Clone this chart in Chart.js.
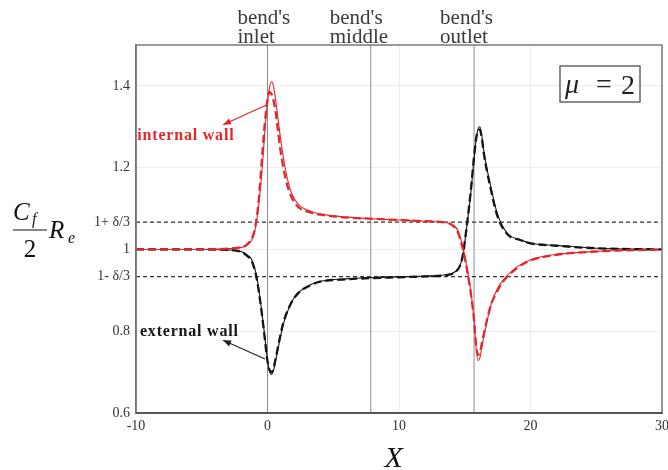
<!DOCTYPE html>
<html>
<head>
<meta charset="utf-8">
<script src="https://cdn.jsdelivr.net/npm/chart.js@4"></script>
<style>
body{margin:0;background:#fff}
#wrap{width:668px;height:470px}
</style>
</head>
<body>
<div id="wrap"><canvas id="chart" width="668" height="470"></canvas></div>
<script>
// delta/3 band around 1
const d3 = 0.0667;

const xTicks = [-10, 0, 10, 20, 30];
const yTickValues = [0.6, 0.8, 1 - d3, 1, 1 + d3, 1.2, 1.4];
const yTickLabels = ["0.6", "0.8", "1- δ/3", "1", "1+ δ/3", "1.2", "1.4"];

// bend inlet / middle / outlet
const bendMarks = [0, 2.5 * Math.PI, 5 * Math.PI];
const bendNames = [["bend's", "inlet"], ["bend's", "middle"], ["bend's", "outlet"]];

// internal wall (red)
const xInternal = [-10,-5,-3,-2,-1.5,-1,-0.7,-0.4,-0.2,0,0.15,0.3,0.45,0.6,0.8,1.0,1.4,1.8,2.3,3.3,4,5,6,8,10,12,13.5,14.1,14.5,14.9,15.2,15.45,15.7,15.85,16.0,16.15,16.35,16.6,17,17.5,18,19,20,22,25,30];
const internalSolid = [1,1,1.002,1.005,1.012,1.04,1.10,1.2,1.29,1.36,1.395,1.41,1.40,1.37,1.32,1.27,1.19,1.14,1.112,1.093,1.087,1.082,1.079,1.075,1.072,1.069,1.066,1.06,1.045,1.0,0.95,0.9,0.83,0.765,0.728,0.735,0.77,0.81,0.865,0.905,0.928,0.958,0.975,0.988,0.995,1.0];
const internalDashed = [1,1,1.002,1.006,1.014,1.045,1.11,1.23,1.31,1.365,1.385,1.38,1.365,1.34,1.29,1.24,1.17,1.13,1.105,1.09,1.085,1.081,1.078,1.075,1.072,1.069,1.066,1.058,1.04,0.995,0.945,0.895,0.83,0.77,0.742,0.748,0.778,0.815,0.865,0.9,0.925,0.955,0.973,0.987,0.995,1.0];

// external wall (black)
const xExternal = [-10,-5,-3,-2,-1.5,-1.2,-0.8,-0.4,-0.2,0,0.15,0.3,0.45,0.6,0.8,1.2,1.75,2.3,3.3,4,6,8,10,12,13.5,14.3,14.7,14.9,15.2,15.45,15.7,15.85,16.0,16.15,16.3,16.45,16.95,17.5,18.25,19.2,20,22,25,30];
const externalSolid = [1,1,0.999,0.995,0.985,0.975,0.93,0.84,0.785,0.728,0.703,0.694,0.703,0.725,0.757,0.817,0.866,0.893,0.914,0.922,0.928,0.931,0.933,0.935,0.938,0.946,0.966,0.995,1.068,1.134,1.22,1.265,1.293,1.30,1.278,1.24,1.158,1.085,1.039,1.024,1.015,1.01,1.003,1.0];
const externalDashed = [1,1,0.999,0.994,0.983,0.972,0.925,0.835,0.78,0.727,0.705,0.70,0.708,0.73,0.762,0.82,0.866,0.892,0.913,0.921,0.927,0.93,0.932,0.934,0.937,0.945,0.965,0.995,1.07,1.14,1.225,1.267,1.29,1.293,1.272,1.235,1.152,1.08,1.037,1.023,1.015,1.009,1.003,1.0];

const RED = "#e8252b";
const BLACK = "#151515";
const SERIF = '"Liberation Serif", "Times New Roman", serif';

function pts(xs, ys){ return xs.map((x,i)=>({x:x, y:ys[i]})) }

function curve(data, color, dashed){
  return {
    data: data, borderColor: color, borderWidth: dashed ? 2.3 : 1.1,
    borderDash: dashed ? [8,4] : [], pointRadius: 0,
    cubicInterpolationMode: "monotone", fill: false, order: dashed ? 0 : 1
  }
}

function refLine(data, color, dash, w){
  return { data: data, borderColor: color, borderWidth: w, borderDash: dash, pointRadius: 0, tension: 0, fill: false, order: 5 }
}

const datasets = [
  curve(pts(xInternal, internalDashed), RED, true),
  curve(pts(xInternal, internalSolid), RED, false),
  curve(pts(xExternal, externalDashed), BLACK, true),
  curve(pts(xExternal, externalSolid), BLACK, false),
  refLine([{x:-10,y:1+d3},{x:30,y:1+d3}], "#333", [4,3], 1.2),
  refLine([{x:-10,y:1-d3},{x:30,y:1-d3}], "#333", [4,3], 1.2)
];
bendMarks.forEach(m => datasets.push(refLine([{x:m,y:0.6},{x:m,y:1.5}], "#8c8c8c", [], 1)));

function arrow(ctx, x1, y1, x2, y2, color){
  ctx.strokeStyle = color; ctx.fillStyle = color; ctx.lineWidth = 1.2;
  ctx.beginPath(); ctx.moveTo(x1,y1); ctx.lineTo(x2,y2); ctx.stroke();
  const a = Math.atan2(y2-y1, x2-x1), L = 8, W = 3.2;
  ctx.beginPath();
  ctx.moveTo(x2, y2);
  ctx.lineTo(x2 - L*Math.cos(a) + W*Math.sin(a), y2 - L*Math.sin(a) - W*Math.cos(a));
  ctx.lineTo(x2 - L*Math.cos(a) - W*Math.sin(a), y2 - L*Math.sin(a) + W*Math.cos(a));
  ctx.closePath(); ctx.fill();
}

const annot = {
  id: "annot",
  afterDraw(chart){
    const {ctx, chartArea: a, scales: {x, y}} = chart;
    ctx.save();
    // frame
    ctx.strokeStyle = "#7a7a7a"; ctx.lineWidth = 1.5;
    ctx.strokeRect(a.left, a.top, a.right - a.left, a.bottom - a.top);
    ctx.strokeStyle = "#555"; ctx.lineWidth = 2;
    ctx.beginPath(); ctx.moveTo(a.left, a.bottom); ctx.lineTo(a.right, a.bottom); ctx.stroke();

    // bend labels
    const offs = [-30, -41, -34];
    ctx.fillStyle = "#3a3a3a"; ctx.font = "21px " + SERIF; ctx.textAlign = "left";
    bendMarks.forEach((m,i) => {
      const px = x.getPixelForValue(m) + offs[i];
      ctx.fillText(bendNames[i][0], px, a.top - 21);
      ctx.fillText(bendNames[i][1], px, a.top - 2);
    });

    // mu box
    const bx = a.right - 102, by = a.top + 21, bw = 80, bh = 36;
    ctx.strokeStyle = "#666"; ctx.lineWidth = 1.5;
    ctx.strokeRect(bx, by, bw, bh);
    ctx.fillStyle = "#222"; ctx.textBaseline = "alphabetic";
    ctx.font = "italic 28px " + SERIF; ctx.textAlign = "left";
    ctx.fillText("μ", bx + 5, by + 27);
    ctx.font = "28px " + SERIF; ctx.textAlign = "center";
    ctx.fillText("=", bx + 44, by + 27);
    ctx.textAlign = "right";
    ctx.fillText("2", bx + bw - 5, by + 28);

    // wall labels + arrows
    ctx.textAlign = "left";
    ctx.font = "bold 16px " + SERIF;
    ctx.letterSpacing = "0.8px";
    ctx.fillStyle = RED;
    ctx.fillText("internal wall", x.getPixelForValue(-9.9), y.getPixelForValue(1.268));
    ctx.fillStyle = BLACK;
    ctx.fillText("external wall", x.getPixelForValue(-9.7), y.getPixelForValue(0.788));
    ctx.letterSpacing = "0px";
    arrow(ctx, x.getPixelForValue(-0.04), y.getPixelForValue(1.354), x.getPixelForValue(-3.38), y.getPixelForValue(1.305), RED);
    arrow(ctx, x.getPixelForValue(-0.19), y.getPixelForValue(0.732), x.getPixelForValue(-3.38), y.getPixelForValue(0.778), "#222");

    // y title  Cf/2 Re
    ctx.fillStyle = "#111"; ctx.textAlign = "left";
    ctx.font = "italic 25px " + SERIF;
    ctx.fillText("C", 13, 220);
    ctx.fillText("R", 49, 238);
    ctx.font = "italic 16px " + SERIF;
    ctx.fillText("f", 32, 224);
    ctx.fillText("e", 68, 243);
    ctx.strokeStyle = "#111"; ctx.lineWidth = 1.2;
    ctx.beginPath(); ctx.moveTo(13, 230); ctx.lineTo(47, 230); ctx.stroke();
    ctx.font = "25px " + SERIF; ctx.textAlign = "center";
    ctx.fillText("2", 30, 257);

    // x title
    ctx.font = "italic 30px " + SERIF;
    ctx.fillText("X", x.getPixelForValue(9.6), 467);
    ctx.restore();
  }
};

new Chart(document.getElementById("chart"), {
  type: "line",
  data: { datasets: datasets },
  options: {
    responsive: false,
    animation: false,
    layout: { padding: { top: 45, right: 6, left: 0, bottom: 0 } },
    plugins: { legend: { display: false }, tooltip: { enabled: false } },
    scales: {
      x: {
        type: "linear", min: -10, max: 30,
        afterBuildTicks: s => { s.ticks = xTicks.map(v => ({value: v})) },
        grid: { color: "#ededed", drawTicks: false },
        border: { color: "#555", width: 2 },
        ticks: { font: { family: SERIF, size: 14 }, color: "#333", padding: 5, maxRotation: 0 },
        afterFit: s => { s.height = 57; s.paddingLeft = 0; s.paddingRight = 0 }
      },
      y: {
        type: "linear", min: 0.6, max: 1.5,
        afterBuildTicks: s => { s.ticks = yTickValues.map(v => ({value: v})) },
        grid: {
          color: c => (c.tick && Math.abs(Math.abs(c.tick.value - 1) - d3) < 1e-6) ? "rgba(0,0,0,0)" : "#ededed",
          drawTicks: false
        },
        border: { color: "#666", width: 1.5 },
        ticks: { callback: (v, i) => yTickLabels[i], font: { family: SERIF, size: 14 }, color: "#333", padding: 6 },
        afterFit: s => { s.width = 136; s.paddingTop = 0; s.paddingBottom = 0 }
      }
    }
  },
  plugins: [annot]
});
</script>
</body>
</html>
